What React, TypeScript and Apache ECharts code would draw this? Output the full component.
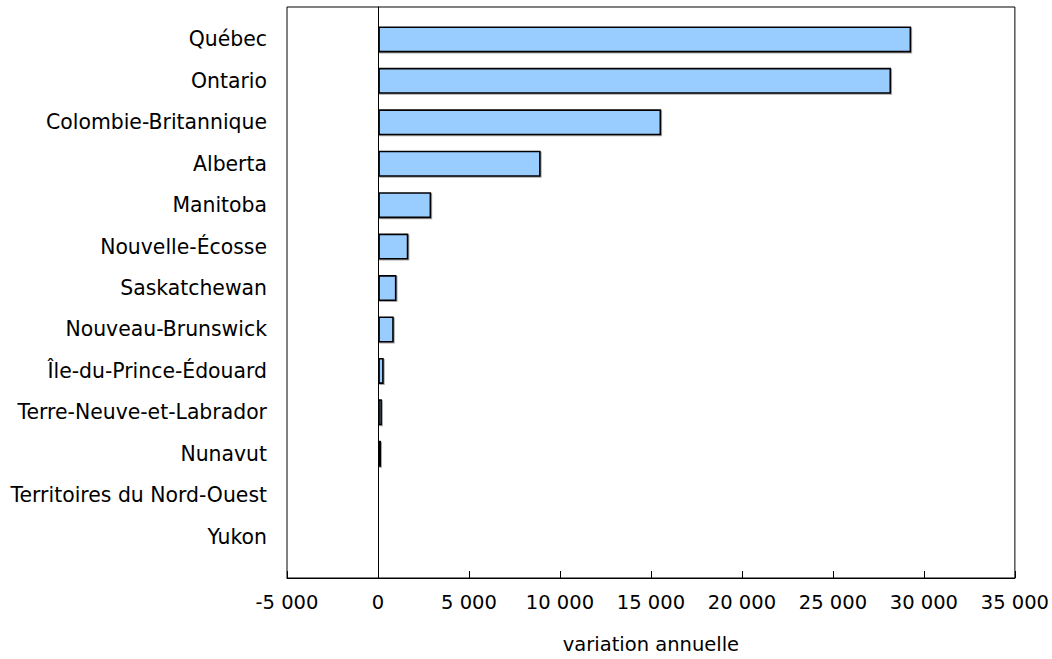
import React, { useEffect, useRef } from "react";
import * as echarts from "echarts";

const categories = [
  "Québec",
  "Ontario",
  "Colombie-Britannique",
  "Alberta",
  "Manitoba",
  "Nouvelle-Écosse",
  "Saskatchewan",
  "Nouveau-Brunswick",
  "Île-du-Prince-Édouard",
  "Terre-Neuve-et-Labrador",
  "Nunavut",
  "Territoires du Nord-Ouest",
  "Yukon",
];

const values = [29200, 28100, 15500, 8900, 2900, 1650, 1000, 850, 300, 200, 150, 40, 70];

const xMin = -5000;
const xMax = 35000;
const xInterval = 5000;
const axisTitle = "variation annuelle";

const FONT = "'DejaVu Sans', Verdana, sans-serif";

function fmt(v: number): string {
  const s = Math.abs(v).toString().replace(/\B(?=(\d{3})+(?!\d))/g, " ");
  return (v < 0 ? "-" : "") + s;
}

export default function App() {
  const ref = useRef<HTMLDivElement>(null);

  useEffect(() => {
    if (!ref.current) return;
    const chart = echarts.init(ref.current, undefined, { renderer: "svg" });
    chart.setOption({
      animation: false,
      backgroundColor: "#ffffff",
      grid: [
        { left: 287, top: 18.7, width: 730, height: 538.7 },
        {
          left: 287,
          top: 7,
          width: 730,
          height: 578.5,
          show: true,
          borderColor: "#000",
          borderWidth: 1,
          backgroundColor: "transparent",
        },
      ],
      xAxis: [
        {
          gridIndex: 0,
          type: "value",
          min: xMin,
          max: xMax,
          interval: xInterval,
          show: false,
        },
        {
          gridIndex: 1,
          type: "value",
          min: xMin,
          max: xMax,
          interval: xInterval,
          axisLine: { show: true, onZero: false, lineStyle: { color: "#000", width: 1 } },
          axisTick: { show: true, inside: true, length: 7, lineStyle: { color: "#000", width: 1 } },
          axisLabel: {
            color: "#000",
            fontSize: 19.5,
            fontFamily: FONT,
            margin: 14,
            formatter: (v: number) => fmt(v),
          },
          splitLine: { show: false },
          name: axisTitle,
          nameLocation: "middle",
          nameGap: 56,
          nameTextStyle: { color: "#000", fontSize: 19.5, fontFamily: FONT },
        },
      ],
      yAxis: [
        {
          gridIndex: 0,
          type: "category",
          data: categories,
          inverse: true,
          axisLine: { show: false },
          axisTick: { show: false },
          axisLabel: { color: "#000", fontSize: 20.4, fontFamily: FONT, margin: 20 },
          splitLine: { show: false },
        },
        {
          gridIndex: 1,
          type: "value",
          min: 0,
          max: 1,
          axisLine: { show: true, onZero: true, lineStyle: { color: "#000", width: 1 } },
          axisTick: { show: false },
          axisLabel: { show: false },
          splitLine: { show: false },
        },
      ],
      series: [
        {
          type: "bar",
          xAxisIndex: 0,
          yAxisIndex: 0,
          data: values,
          barWidth: 26,
          itemStyle: {
            color: "#99CCFF",
            borderColor: "#000",
            borderWidth: 1.6,
            shadowColor: "rgba(0,0,0,0.35)",
            shadowOffsetX: 1,
            shadowOffsetY: 1,
            shadowBlur: 0,
          },
          z: 3,
        },
      ],
    });
    return () => chart.dispose();
  }, []);

  return (
    <div
      ref={ref}
      style={{ position: "fixed", left: 0, top: 0, width: 1052, height: 659 }}
    />
  );
}
